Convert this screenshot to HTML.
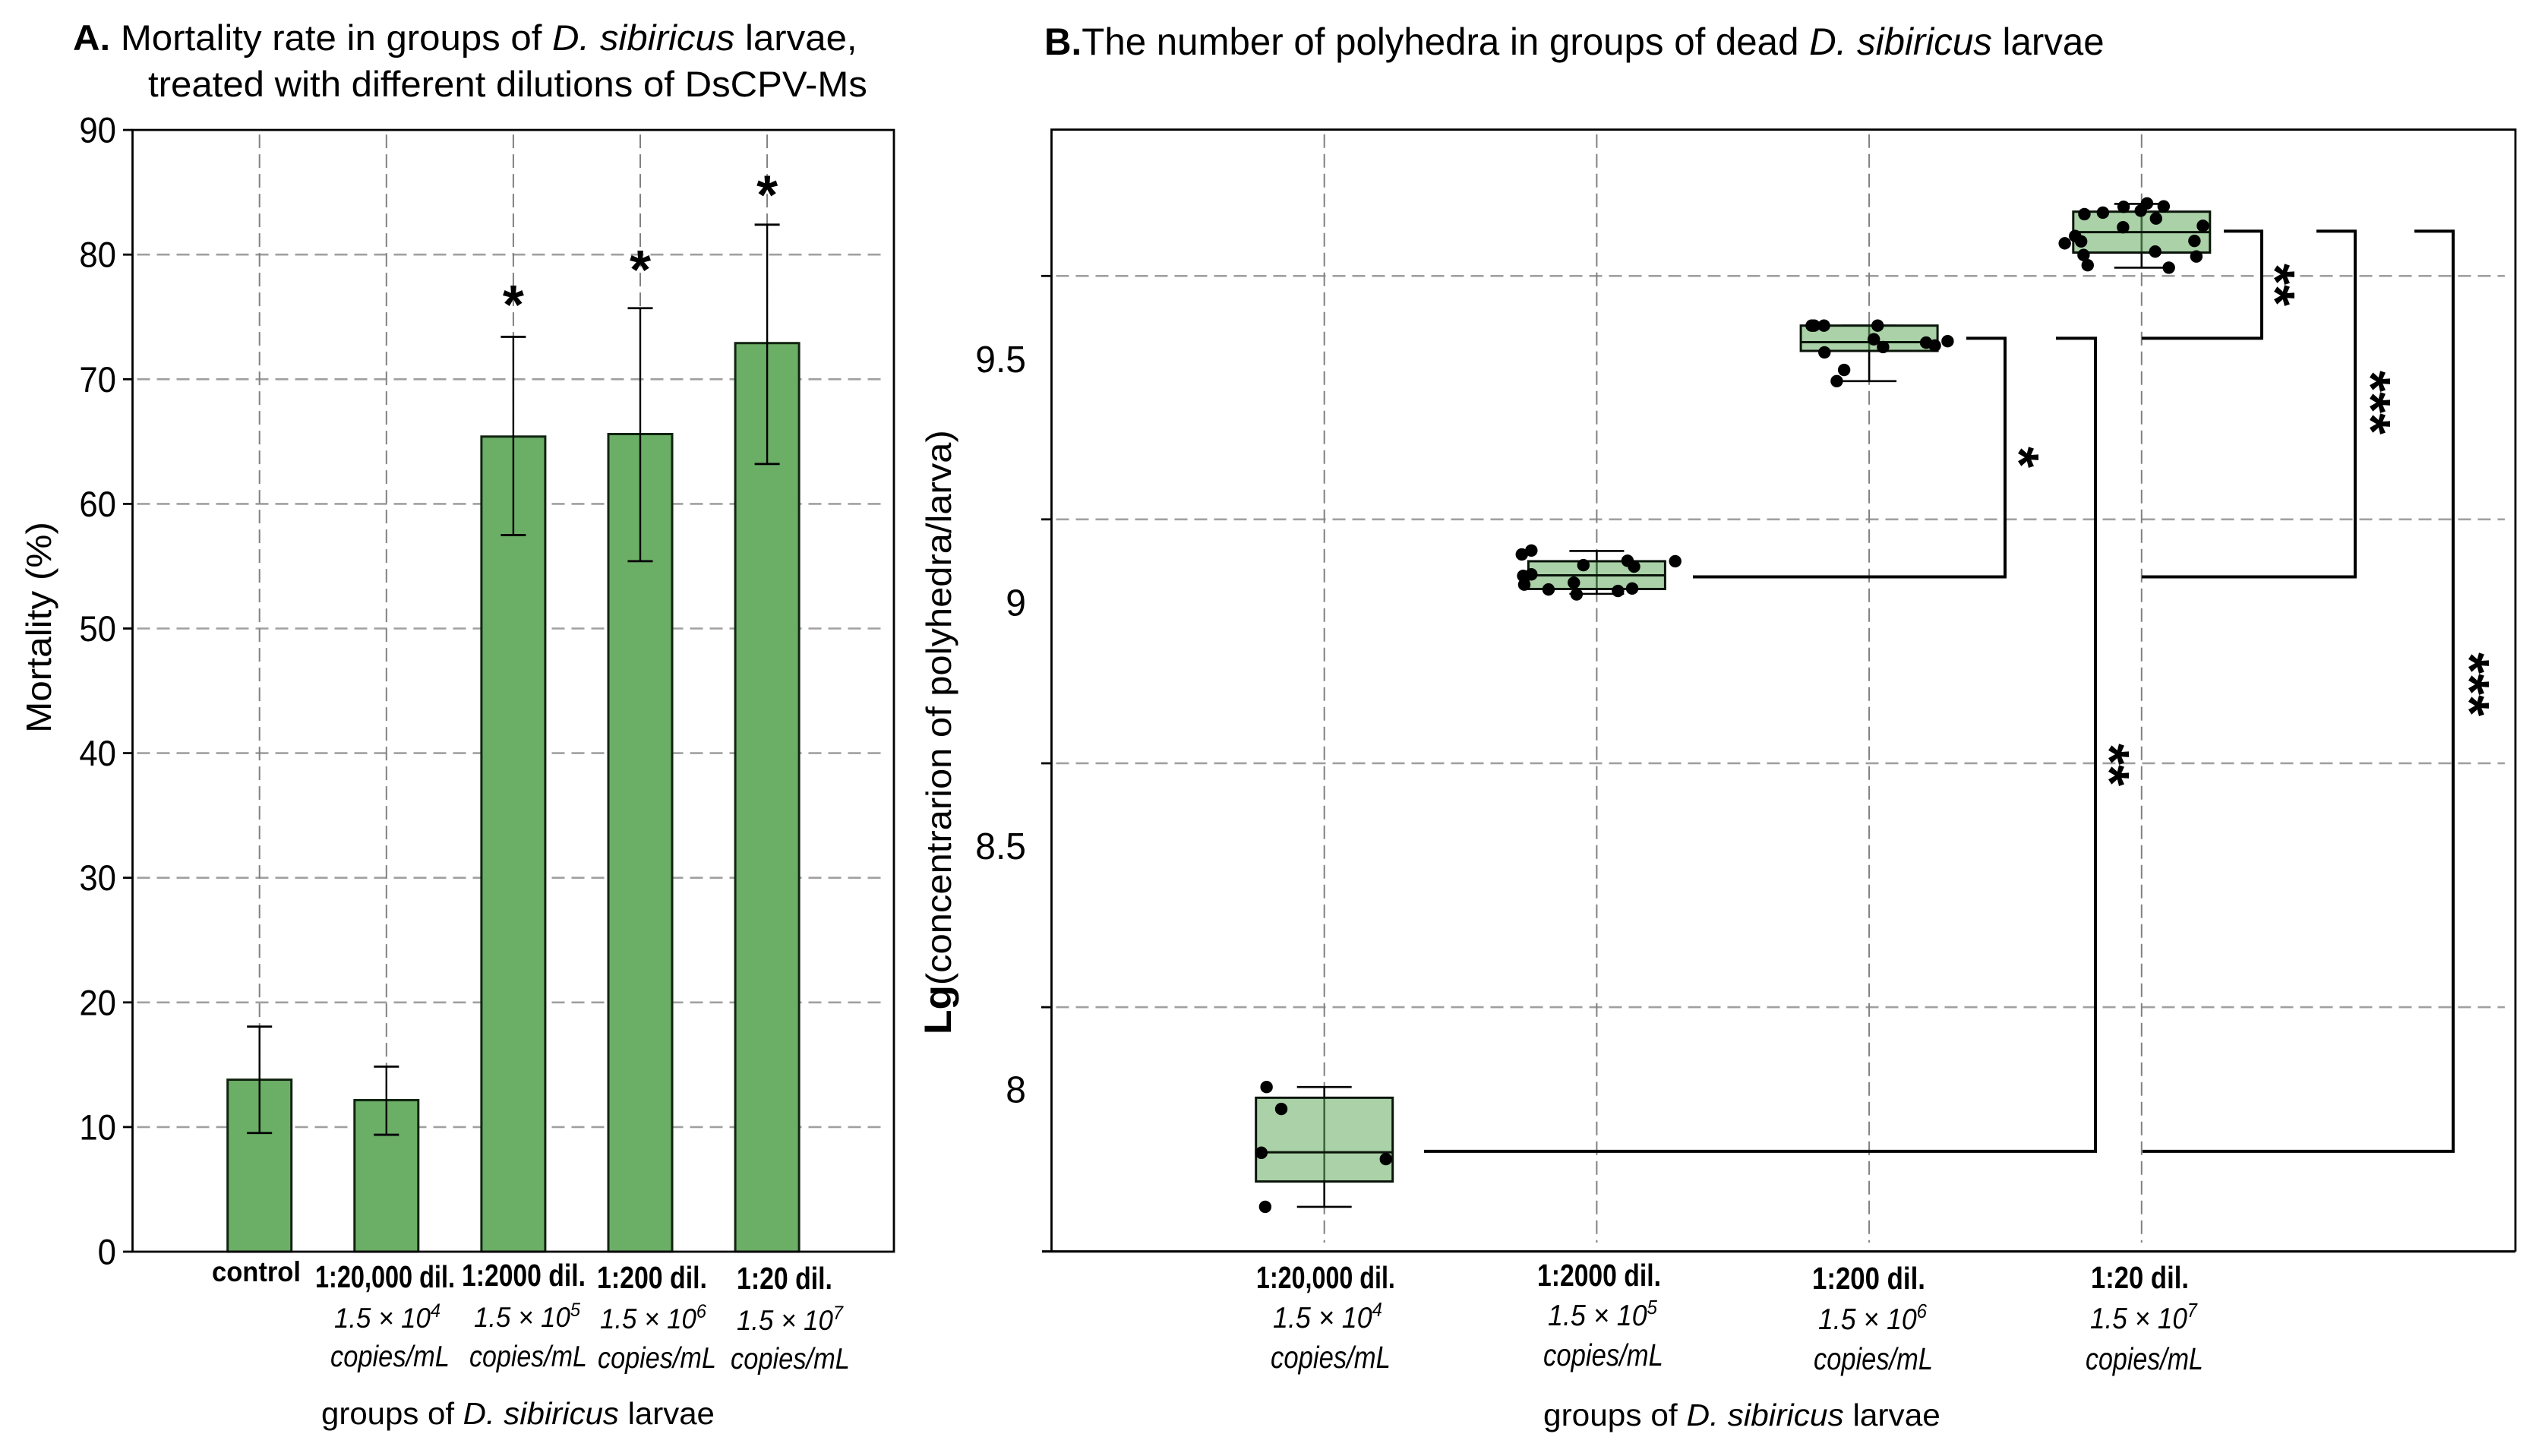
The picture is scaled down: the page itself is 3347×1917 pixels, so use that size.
<!DOCTYPE html>
<html lang="en">
<head>
<meta charset="utf-8">
<title>Mortality rate and polyhedra counts in D. sibiricus larvae</title>
<style>
html,body{margin:0;padding:0;background:#fff;}
svg{display:block;}
text{font-family:"Liberation Sans",sans-serif;fill:#000;}
.b{font-weight:bold;}
.i{font-style:italic;}
.tick-a{font-size:47px;text-anchor:end;}
.tick-b{font-size:49px;text-anchor:end;}
.star{font-size:72px;font-weight:bold;text-anchor:middle;}
</style>
</head>
<body>
<svg id="figure" xmlns="http://www.w3.org/2000/svg" width="3347" height="1917" viewBox="0 0 3347 1917">
  <rect x="0" y="0" width="3347" height="1917" fill="#fff"/>
  <g id="panel-a"></g>
  <g id="panel-b"></g>

  <text data-fit="96 1129 66" font-size="47"><tspan class="b">A.</tspan> Mortality rate in groups of <tspan class="i">D. sibiricus</tspan> larvae,</text>
  <text data-fit="195 1142 127" font-size="47">treated with different dilutions of DsCPV-Ms</text>
  <text data-fitv="67 687 965" font-size="46">Mortality (%)</text>

  <text class="b" data-fit="279 396 1687" font-size="37">control</text>
  <text class="b" data-fit="415 599 1695" font-size="41">1:20,000 dil.</text>
  <text class="b" data-fit="608 771 1693" font-size="41">1:2000 dil.</text>
  <text class="b" data-fit="786 931 1696" font-size="41">1:200 dil.</text>
  <text class="b" data-fit="970 1096 1697" font-size="41">1:20 dil.</text>

  <text class="i" data-fit="440 580 1748" font-size="37">1.5 × 10<tspan font-size="25" dy="-14">4</tspan></text>
  <text class="i" data-fit="624 764 1747" font-size="37">1.5 × 10<tspan font-size="25" dy="-14">5</tspan></text>
  <text class="i" data-fit="790 930 1749" font-size="37">1.5 × 10<tspan font-size="25" dy="-14">6</tspan></text>
  <text class="i" data-fit="970 1110 1751" font-size="37">1.5 × 10<tspan font-size="25" dy="-14">7</tspan></text>

  <text class="i" data-fit="435 592 1799" font-size="39">copies/mL</text>
  <text class="i" data-fit="618 773 1799" font-size="39">copies/mL</text>
  <text class="i" data-fit="787 943 1801" font-size="39">copies/mL</text>
  <text class="i" data-fit="962 1119 1802" font-size="39">copies/mL</text>

  <text data-fit="423 941 1875" font-size="41">groups of <tspan class="i">D. sibiricus</tspan> larvae</text>

  <text data-fit="1375 2771 72" font-size="50"><tspan class="b">B.</tspan>The number of polyhedra in groups of dead <tspan class="i">D. sibiricus</tspan> larvae</text>
  <text data-fitv="1252 566 1362" font-size="46"><tspan class="b" font-size="50">Lg</tspan>(concentrarion of polyhedra/larva)</text>

  <text class="b" data-fit="1654 1837 1696" font-size="41">1:20,000 dil.</text>
  <text class="b" data-fit="2024 2187 1693" font-size="41">1:2000 dil.</text>
  <text class="b" data-fit="2386 2535 1697" font-size="41">1:200 dil.</text>
  <text class="b" data-fit="2753 2882 1696" font-size="41">1:20 dil.</text>

  <text class="i" data-fit="1676 1820 1748" font-size="39">1.5 × 10<tspan font-size="26" dy="-15">4</tspan></text>
  <text class="i" data-fit="2038 2182 1745" font-size="39">1.5 × 10<tspan font-size="26" dy="-15">5</tspan></text>
  <text class="i" data-fit="2394 2537 1750" font-size="39">1.5 × 10<tspan font-size="26" dy="-15">6</tspan></text>
  <text class="i" data-fit="2752 2893 1749" font-size="39">1.5 × 10<tspan font-size="26" dy="-15">7</tspan></text>

  <text class="i" data-fit="1673 1831 1801" font-size="41">copies/mL</text>
  <text class="i" data-fit="2032 2190 1798" font-size="41">copies/mL</text>
  <text class="i" data-fit="2388 2545 1803" font-size="41">copies/mL</text>
  <text class="i" data-fit="2746 2901 1803" font-size="41">copies/mL</text>

  <text data-fit="2032 2555 1877" font-size="41">groups of <tspan class="i">D. sibiricus</tspan> larvae</text>

  <text class="star" transform="translate(2669,602) rotate(90)" y="35">*</text>
  <text class="star" transform="translate(3006,375) rotate(90)" y="35">**</text>
  <text class="star" transform="translate(3132,530) rotate(90)" y="35">***</text>
  <text class="star" transform="translate(2788,1007) rotate(90)" y="35">**</text>
  <text class="star" transform="translate(3262,901) rotate(90)" y="35">***</text>
</svg>

<script>
/* Panel A data */
const barCategories = ['control', '1:20,000 dil.', '1:2000 dil.', '1:200 dil.', '1:20 dil.'];
const mortalityValues = [13.8, 12.16, 65.4, 65.6, 72.9];
const errorUpper = [18.06, 14.85, 73.4, 75.7, 82.4];
const errorLower = [9.52, 9.38, 57.5, 55.4, 63.2];
const starValues = [null, null, 76.6, 79.4, 85.4];
const mortalityTicks = [0, 10, 20, 30, 40, 50, 60, 70, 80, 90];

/* Panel B data */
const boxCategories = ['1:20,000 dil.', '1:2000 dil.', '1:200 dil.', '1:20 dil.'];
const boxQ1 = [7.808, 9.025, 9.514, 9.716];
const boxMedian = [7.868, 9.053, 9.532, 9.758];
const boxQ3 = [7.980, 9.082, 9.566, 9.800];
const whiskerLow = [7.756, 9.015, 9.452, 9.685];
const whiskerHigh = [8.002, 9.103, 9.566, 9.816];
const lgTickLabels = [9.5, 9, 8.5, 8];
const lgGridValues = [9.668, 9.168, 8.667, 8.166];
const bracketLevels = [7.87, 9.05, 9.54, 9.76];

const pointValues0 = [8.002, 7.957, 7.867, 7.854, 7.756];
const pointJitter0 = [-0.212, -0.158, -0.231, 0.226, -0.217];
const pointValues1 = [9.096, 9.104, 9.074, 9.083, 9.071, 9.082, 9.052, 9.055, 9.034, 9.024, 9.038, 9.014, 9.021, 9.026];
const pointJitter1 = [-0.275, -0.240, -0.049, 0.113, 0.137, 0.288, -0.270, -0.240, -0.266, -0.177, -0.084, -0.074, 0.078, 0.130];
const pointValues2 = [9.566, 9.566, 9.566, 9.566, 9.538, 9.522, 9.531, 9.525, 9.534, 9.511, 9.475, 9.452];
const pointJitter2 = [-0.211, -0.202, -0.166, 0.031, 0.017, 0.051, 0.209, 0.241, 0.288, -0.164, -0.092, -0.119];
const pointValues3 = [9.795, 9.798, 9.810, 9.802, 9.817, 9.811, 9.786, 9.768, 9.771, 9.750, 9.739, 9.735, 9.740, 9.711, 9.690, 9.718, 9.708, 9.685];
const pointJitter3 = [-0.210, -0.142, -0.066, -0.003, 0.020, 0.081, 0.053, -0.068, 0.225, -0.244, -0.222, -0.282, 0.194, -0.213, -0.198, 0.050, 0.201, 0.100];
const allPointValues = [pointValues0, pointValues1, pointValues2, pointValues3];
const allPointJitter = [pointJitter0, pointJitter1, pointJitter2, pointJitter3];

/* Axis functions */
function yA(v) { return 1648 - v * 16.41; }
function xA(i) { return 341.7 + 167.1 * i; }
function yB(v) { return 471 + (9.5 - v) * 641; }
function xB(i) { return 1743.7 + 358.7 * i; }

const NS = 'http://www.w3.org/2000/svg';
function mk(parent, tag, attrs) {
  const el = document.createElementNS(NS, tag);
  for (const k in attrs) el.setAttribute(k, attrs[k]);
  parent.appendChild(el);
  return el;
}
function hLine(parent, x1, x2, y, stroke, width, dash) {
  const a = { x1: x1, x2: x2, y1: y, y2: y, stroke: stroke, 'stroke-width': width };
  if (dash) a['stroke-dasharray'] = dash;
  return mk(parent, 'line', a);
}
function vLine(parent, x, y1, y2, stroke, width, dash) {
  const a = { x1: x, x2: x, y1: y1, y2: y2, stroke: stroke, 'stroke-width': width };
  if (dash) a['stroke-dasharray'] = dash;
  return mk(parent, 'line', a);
}

/* ---------- Panel A ---------- */
const pa = document.getElementById('panel-a');
const A_LEFT = 174.5, A_RIGHT = 1177, A_TOP = yA(90), A_BOTTOM = yA(0);

mortalityTicks.forEach(function (t) {
  if (t > 0 && t < 90) {
    const grid = hLine(pa, A_LEFT + 6, A_RIGHT - 12, yA(t), '#a0a0a0', 2.6, '17 9');
    
    
  }
  const tick = hLine(pa, 162, A_LEFT, yA(t), '#000', 2.8);
  
  
  const label = mk(pa, 'text', { transform: 'translate(153,' + (yA(t) + 16.5) + ') scale(0.93,1)', class: 'tick-a' });
  label.textContent = String(t);
  
  
});

barCategories.forEach(function (c, i) {
  const cx = xA(i);
  const grid = vLine(pa, cx, A_TOP + 6, A_BOTTOM, '#808080', 2, '18 8');
  
  
});

barCategories.forEach(function (c, i) {
  const cx = xA(i), top = yA(mortalityValues[i]);
  const bar = mk(pa, 'rect', { x: cx - 42, y: top, width: 84, height: A_BOTTOM - top, fill: '#6bae66', stroke: '#102410', 'stroke-width': 3 });
  
  
  const stem = vLine(pa, cx, yA(errorUpper[i]), yA(errorLower[i]), '#000', 2.4);
  
  
  const capHi = hLine(pa, cx - 16.5, cx + 16.5, yA(errorUpper[i]), '#000', 2.8);
  
  
  const capLo = hLine(pa, cx - 16.5, cx + 16.5, yA(errorLower[i]), '#000', 2.8);
  
  
  if (starValues[i] !== null) {
    const star = mk(pa, 'text', { x: cx, y: yA(starValues[i]) + 35, class: 'star' });
    star.textContent = '*';
    
    
  }
});

const frameA = mk(pa, 'rect', { x: A_LEFT, y: A_TOP, width: A_RIGHT - A_LEFT, height: A_BOTTOM - A_TOP, fill: 'none', stroke: '#000', 'stroke-width': 2.8 });



/* ---------- Panel B ---------- */
const pb = document.getElementById('panel-b');
const B_LEFT = 1384.5, B_RIGHT = 3312, B_TOP = 170.7, B_BOTTOM = 1647.7;

lgGridValues.forEach(function (v) {
  const grid = hLine(pb, B_LEFT + 6, B_RIGHT - 14, yB(v), '#a0a0a0', 2.6, '17 9');
  
  
  const tick = hLine(pb, 1371, B_LEFT, yB(v), '#000', 2.8);
  
  
});
lgTickLabels.forEach(function (v) {
  const label = mk(pb, 'text', { transform: 'translate(1351,' + (yB(v) + 19) + ') scale(0.98,1)', class: 'tick-b' });
  label.textContent = String(v);
  
  
});

boxCategories.forEach(function (c, i) {
  const cx = xB(i);
  const grid = vLine(pb, cx, B_TOP + 6, 1636, '#808080', 2, '18 8');
  
  
});

boxCategories.forEach(function (c, i) {
  const cx = xB(i), half = 90;
  const stem = vLine(pb, cx, yB(whiskerHigh[i]), yB(whiskerLow[i]), '#000', 2.6);
  
  
  const capHi = hLine(pb, cx - 36, cx + 36, yB(whiskerHigh[i]), '#000', 2.6);
  
  
  const capLo = hLine(pb, cx - 36, cx + 36, yB(whiskerLow[i]), '#000', 2.6);
  
  
  const box = mk(pb, 'rect', { x: cx - half, y: yB(boxQ3[i]), width: half * 2, height: yB(boxQ1[i]) - yB(boxQ3[i]), fill: 'rgba(108,176,103,0.58)', stroke: '#0a140a', 'stroke-width': 3 });
  
  
  const med = hLine(pb, cx - half, cx + half, yB(boxMedian[i]), '#0a140a', 3);
  
  
  allPointValues[i].forEach(function (v, j) {
    const dot = mk(pb, 'circle', { cx: cx + allPointJitter[i][j] * 358.7, cy: yB(v), r: 8.2, fill: '#000' });
    
    
  });
});

function drawBracket(xLowEnd, levelLow, xVert, levelHigh, xHighEnd) {
  const d = 'M' + xLowEnd + ' ' + yB(levelLow) + ' H' + xVert + ' V' + yB(levelHigh) + ' H' + xHighEnd;
  const br = mk(pb, 'path', { d: d, fill: 'none', stroke: '#000', 'stroke-width': 4 });
  
  
}
drawBracket(2229, bracketLevels[1], 2640, bracketLevels[2], 2589);
drawBracket(1875, bracketLevels[0], 2759, bracketLevels[2], 2707);
drawBracket(2820, bracketLevels[2], 2978, bracketLevels[3], 2928);
drawBracket(2820, bracketLevels[1], 3101, bracketLevels[3], 3050);
drawBracket(2821, bracketLevels[0], 3230, bracketLevels[3], 3179);

const frameB = mk(pb, 'path', { d: 'M' + B_LEFT + ' ' + B_BOTTOM + ' V' + B_TOP + ' H' + B_RIGHT + ' V' + B_BOTTOM, fill: 'none', stroke: '#000', 'stroke-width': 2.8 });


const axisB = hLine(pb, 1372, B_RIGHT, B_BOTTOM, '#000', 3.2);



/* ---------- Fit text to measured extents ---------- */
document.querySelectorAll('text[data-fit]').forEach(function (el) {
  const p = el.getAttribute('data-fit').split(' ').map(Number);
  const s = (p[1] - p[0]) / el.getComputedTextLength();
  el.setAttribute('transform', 'translate(' + p[0] + ',' + p[2] + ') scale(' + s + ',1)');
});
document.querySelectorAll('text[data-fitv]').forEach(function (el) {
  const p = el.getAttribute('data-fitv').split(' ').map(Number);
  const s = (p[2] - p[1]) / el.getComputedTextLength();
  el.setAttribute('transform', 'translate(' + p[0] + ',' + p[2] + ') rotate(-90) scale(' + s + ',1)');
});
</script>
</body>
</html>
